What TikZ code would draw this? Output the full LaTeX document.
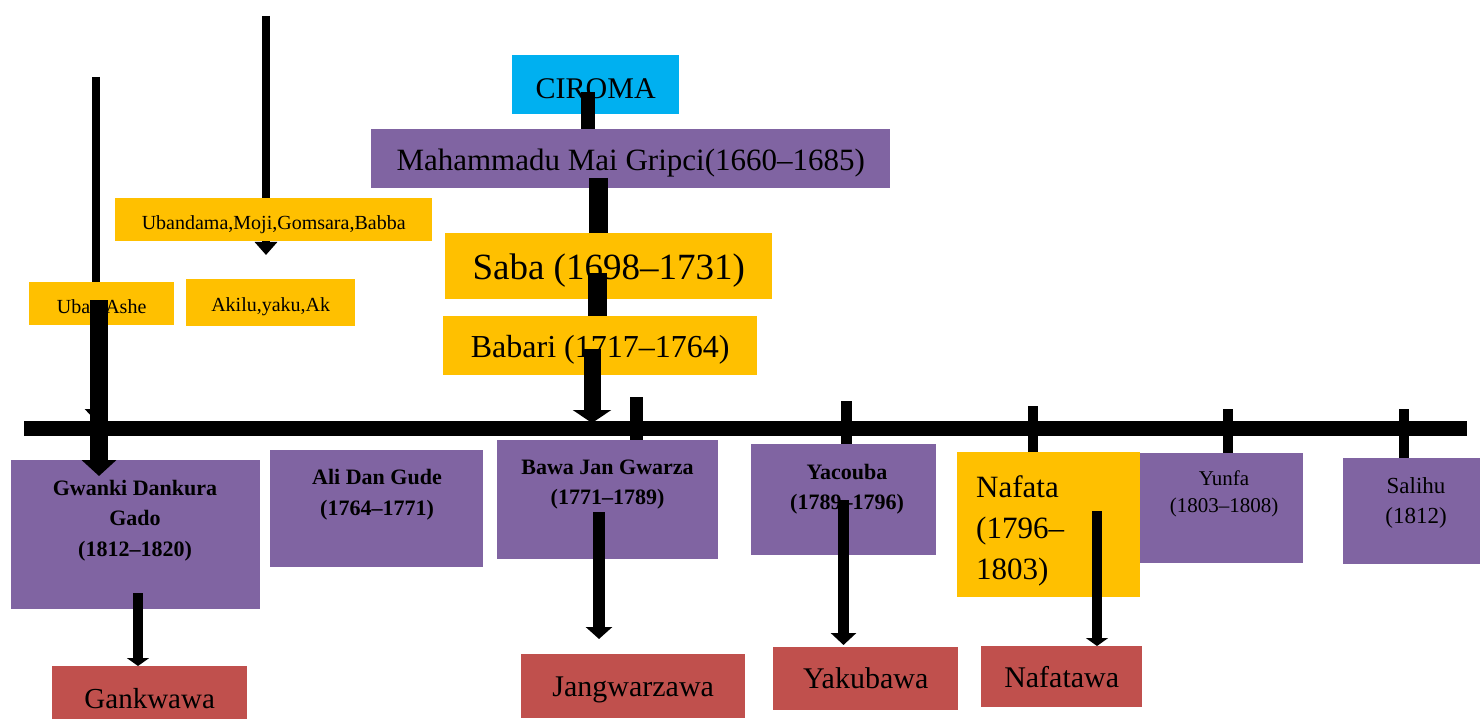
\documentclass[tikz,border=0pt]{standalone}
\usepackage{fontspec}
\setmainfont{Liberation Serif}
\usetikzlibrary{arrows.meta,calc}
\definecolor{vpurple}{HTML}{8064A2}
\definecolor{vgold}{HTML}{FFC000}
\definecolor{vcyan}{HTML}{00B0F0}
\definecolor{vred}{HTML}{C0504D}
\newcommand{\fsz}[2]{\fontsize{#1}{#2}\selectfont}
\tikzset{
  box/.style={fill=#1, draw=none, anchor=north west, inner sep=0pt, align=center, text=black},
  txt/.style={inner sep=0pt, align=center, text=black},
  bar/.style={draw=black, line width=#1, line cap=butt},
  arr/.style n args={4}{draw=black, line width=#1, -{Triangle[width=#2,length=#3]}, shorten >=#4},
}
\begin{document}
\begin{tikzpicture}[x=1pt,y=-1pt]
\useasboundingbox (0,0) rectangle (1480,719);
% coordinates
\coordinate (topA) at (266,16);
\coordinate (topAe) at (266,255);
\coordinate (leftA) at (96,77);
\coordinate (leftAe) at (96,421);
\coordinate (tlL) at (24,428.5);
\coordinate (tlR) at (1467,428.5);
% thin arrows behind the boxes
\draw[arr={8.5pt}{22pt}{13pt}{0pt}] (topA) -- (topAe);
\draw[arr={8.5pt}{22pt}{12pt}{0pt}] (leftA) -- (leftAe);
% upper boxes
\node[box=vcyan, minimum width=167pt, minimum height=59pt, font=\fsz{30}{36}, text height=28.3pt] (ciroma) at (512,55) {CIROMA};
\node[box=vpurple, minimum width=519pt, minimum height=59pt, font=\fsz{31}{36}, text height=29.5pt] (mah) at (371,129) {Mahammadu Mai Gripci(1660--1685)};
\node[box=vgold, minimum width=327pt, minimum height=66pt, font=\fsz{37}{44}, text height=35.3pt] (saba) at (445,233) {Saba (1698--1731)};
\node[box=vgold, minimum width=314pt, minimum height=59pt, font=\fsz{32}{38}, text height=29.9pt] (babari) at (443,316) {Babari (1717--1764)};
\node[box=vgold, minimum width=317pt, minimum height=43pt, font=\fsz{20}{24}, text height=23.7pt] (ubandama) at (115,198) {Ubandama,Moji,Gomsara,Babba};
\node[box=vgold, minimum width=145pt, minimum height=43pt, font=\fsz{20}{24}, text height=19.7pt] (uban) at (29,282) {Uban Ashe};
\node[box=vgold, minimum width=169pt, minimum height=47pt, font=\fsz{20}{24}, text height=21.7pt] (akilu) at (186,279) {Akilu,yaku,Ak};
% lower boxes
\node[box=vpurple, minimum width=249pt, minimum height=149pt] (gwankibox) at (11,460) {};
\node[txt, font=\bfseries\fsz{22}{30.5}] (gwanki) at (135,520.5) {Gwanki Dankura\\Gado\\(1812--1820)};
\node[box=vpurple, minimum width=213pt, minimum height=117pt] (alibox) at (270,450) {};
\node[txt, font=\bfseries\fsz{22}{31}] (ali) at (377,494.5) {Ali Dan Gude\\(1764--1771)};
\node[box=vpurple, minimum width=221pt, minimum height=119pt] (bawabox) at (497,440) {};
\node[txt, font=\bfseries\fsz{22}{30}] (bawa) at (607.5,485) {Bawa Jan Gwarza\\(1771--1789)};
\node[box=vpurple, minimum width=185pt, minimum height=111pt] (yacbox) at (751,444) {};
\node[txt, font=\bfseries\fsz{22}{30}] (yac) at (847,489) {Yacouba\\(1789--1796)};
\node[box=vgold, minimum width=183pt, minimum height=145pt] (nafbox) at (957,452) {};
\node[txt, anchor=west, align=left, font=\fsz{31}{41}] (naf) at (976,531) {Nafata\\(1796--\\1803)};
\node[box=vpurple, minimum width=163pt, minimum height=110pt] (yunbox) at (1140,453) {};
\node[txt, font=\fsz{21}{27}] (yun) at (1224,494) {Yunfa\\(1803--1808)};
\node[box=vpurple, minimum width=137pt, minimum height=106pt] (salbox) at (1343,458) {};
\node[txt, font=\fsz{23}{30}] (sal) at (1416,503) {Salihu\\(1812)};
% red boxes
\node[box=vred, minimum width=195pt, minimum height=64pt, font=\fsz{29}{34}] (gank) at (52,666) {Gankwawa};
\node[box=vred, minimum width=224pt, minimum height=64pt, font=\fsz{30}{36}, text height=26.5pt] (jang) at (521,654) {Jangwarzawa};
\node[box=vred, minimum width=185pt, minimum height=63pt, font=\fsz{30}{36}] (yak) at (773,647) {Yakubawa};
\node[box=vred, minimum width=161pt, minimum height=61pt, font=\fsz{30}{36}] (nafw) at (981,646) {Nafatawa};
% timeline
\draw[bar=15pt] (tlL) -- (tlR);
% chain connectors
\coordinate (c1) at (588,92);
\draw[bar=14pt] (c1) -- (c1 |- mah.north);
\coordinate (c2) at (598,178);
\draw[bar=19pt] (c2) -- (c2 |- saba.north);
\coordinate (c3) at (597.5,273);
\draw[bar=19pt] (c3) -- (c3 |- babari.north);
\coordinate (c4) at (592,349);
\coordinate (c4e) at (592,423);
\draw[arr={17pt}{38pt}{13pt}{0pt}] (c4) -- (c4e);
% thick arrow from Uban Ashe
\coordinate (u1) at (99,300);
\coordinate (u1e) at (99,476);
\draw[arr={18pt}{34pt}{16pt}{0pt}] (u1) -- (u1e);
% ticks
\coordinate (k1) at (636.5,397);
\draw[bar=13pt] (k1) -- (k1 |- bawabox.north);
\coordinate (k2) at (846.5,401);
\draw[bar=11pt] (k2) -- (k2 |- yacbox.north);
\coordinate (k3) at (1033,406);
\draw[bar=10.5pt] (k3) -- (k3 |- nafbox.north);
\coordinate (k4) at (1228,409);
\draw[bar=10pt] (k4) -- (k4 |- yunbox.north);
\coordinate (k5) at (1404,409);
\draw[bar=10.5pt] (k5) -- (k5 |- salbox.north);
% down arrows to houses
\coordinate (d1) at (599,512);
\coordinate (d1e) at (599,639);
\draw[arr={12pt}{26pt}{12pt}{0pt}] (d1) -- (d1e);
\coordinate (d2) at (843.5,500);
\draw[arr={11.5pt}{25pt}{12pt}{2pt}] (d2) -- (d2 |- yak.north);
\coordinate (d3) at (1097,511);
\draw[arr={10pt}{22pt}{8pt}{0pt}] (d3) -- (d3 |- nafw.north);
\coordinate (d4) at (138,593);
\draw[arr={10pt}{22pt}{8pt}{0pt}] (d4) -- (d4 |- gank.north);
\end{tikzpicture}
\end{document}
